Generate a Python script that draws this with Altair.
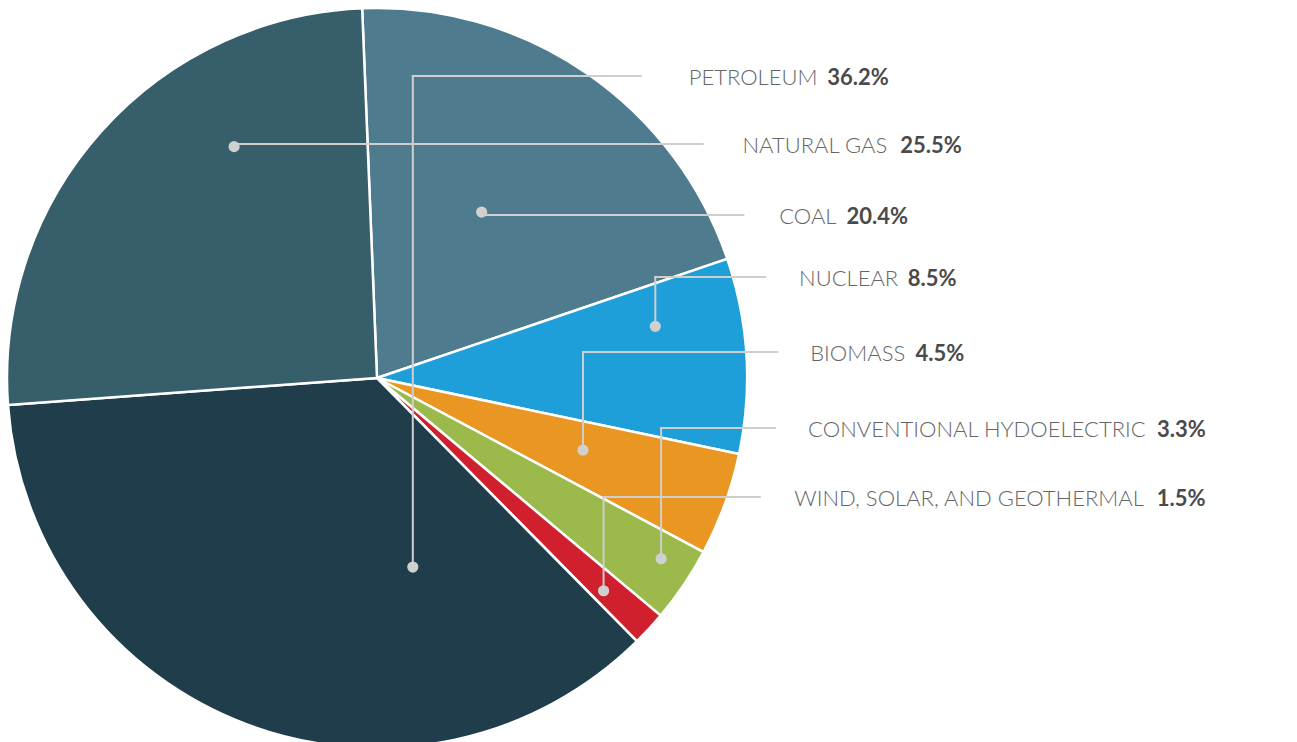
import math
import altair as alt
import pandas as pd

# ---- data ----
categories = ["Coal", "Nuclear", "Biomass", "Conventional Hydoelectric",
              "Wind, Solar, and Geothermal", "Petroleum", "Natural Gas"]
values = [20.4, 8.5, 4.5, 3.3, 1.5, 36.2, 25.5]
colors = ["#4e7b8d", "#1f9fd9", "#ea9622", "#9bba4b", "#d0202e", "#1f3d4a", "#365e6b"]

# ---- layout (not data) ----
W, H = 1281, 734
CX, CY, R = 369, 370, 370
START_DEG = -2.3
dot_frac = [0.47, 0.27, 0.46, 0.37, 0.6, 0.26, 0.68]      # position of dot inside its slice
dot_rad = [0.53, 0.765, 0.59, 0.91, 0.84, 0.52, 0.735]    # dot radius as share of pie radius
label_row = [207, 269, 344, 420, 489, 68, 136]            # label rows
LINE_R, LABEL_R = 401, 434
FS = 22

LATO = {'A': .68, 'B': .65, 'C': .66, 'D': .74, 'E': .57, 'F': .55, 'G': .72, 'H': .75,
        'I': .28, 'L': .51, 'M': .89, 'N': .75, 'O': .80, 'P': .61, 'R': .64, 'S': .54,
        'T': .58, 'U': .72, 'V': .68, 'W': 1.0, 'Y': .62, ' ': .26, ',': .23}


def text_w(s):
    return sum(LATO.get(ch, .6) for ch in s) * FS


total = sum(values)
pie = pd.DataFrame({"category": categories, "value": values, "idx": list(range(len(values)))})

segs, dots, names, pcts = [], [], [], []
cum = START_DEG
for i, (c, v) in enumerate(zip(categories, values)):
    span = v / total * 360.0
    a = math.radians(cum + dot_frac[i] * span)
    cum += span
    r = dot_rad[i] * R
    dx = CX + r * math.sin(a)
    dy = CY - r * math.cos(a)
    row = label_row[i]
    lend = CX + math.sqrt(LINE_R ** 2 - (row - CY) ** 2)
    lx = CX + math.sqrt(LABEL_R ** 2 - (row - CY) ** 2)
    segs.append({"x": dx, "x2": dx, "y": dy, "y2": row})
    segs.append({"x": dx, "x2": lend, "y": row, "y2": row})
    dots.append({"x": dx, "y": dy})
    name = c.upper()
    names.append({"x": lx, "y": row + 2, "t": name})
    pcts.append({"x": lx + text_w(name) + 9, "y": row + 2, "t": f"{v:.1f}%"})

theta_range = [math.radians(START_DEG), math.radians(START_DEG) + 2 * math.pi]

arc = alt.Chart(pie).mark_arc(outerRadius=R, stroke="white", strokeWidth=2.5).encode(
    theta=alt.Theta("value:Q", stack=True, scale=alt.Scale(range=theta_range)),
    color=alt.Color("category:N", scale=alt.Scale(domain=categories, range=colors), legend=None),
    order=alt.Order("idx:Q"),
    x=alt.value(CX),
    y=alt.value(CY),
)

lines = alt.Chart(pd.DataFrame(segs)).mark_rule(color="#cfcfcf", strokeWidth=2, strokeCap="square").encode(
    x=alt.X("x:Q", scale=None, axis=None),
    x2="x2:Q",
    y=alt.Y("y:Q", scale=None, axis=None),
    y2="y2:Q",
)

pts = alt.Chart(pd.DataFrame(dots)).mark_circle(color="#d0d0d0", opacity=1, size=125).encode(
    x=alt.X("x:Q", scale=None, axis=None),
    y=alt.Y("y:Q", scale=None, axis=None),
)

name_txt = alt.Chart(pd.DataFrame(names)).mark_text(
    align="left", baseline="middle", font="Lato", fontWeight=300, fontSize=FS, color="#666666"
).encode(
    x=alt.X("x:Q", scale=None, axis=None),
    y=alt.Y("y:Q", scale=None, axis=None),
    text="t:N",
)

pct_txt = alt.Chart(pd.DataFrame(pcts)).mark_text(
    align="left", baseline="middle", font="Lato", fontWeight="bold", fontSize=FS, color="#4a4a4a"
).encode(
    x=alt.X("x:Q", scale=None, axis=None),
    y=alt.Y("y:Q", scale=None, axis=None),
    text="t:N",
)

chart = alt.layer(arc, lines, pts, name_txt, pct_txt).properties(
    width=W, height=H, autosize=alt.AutoSizeParams(type="none"), padding=0, background="white"
).configure_view(stroke=None)

chart.save("out.html", embed_options={"renderer": "svg", "actions": False})
